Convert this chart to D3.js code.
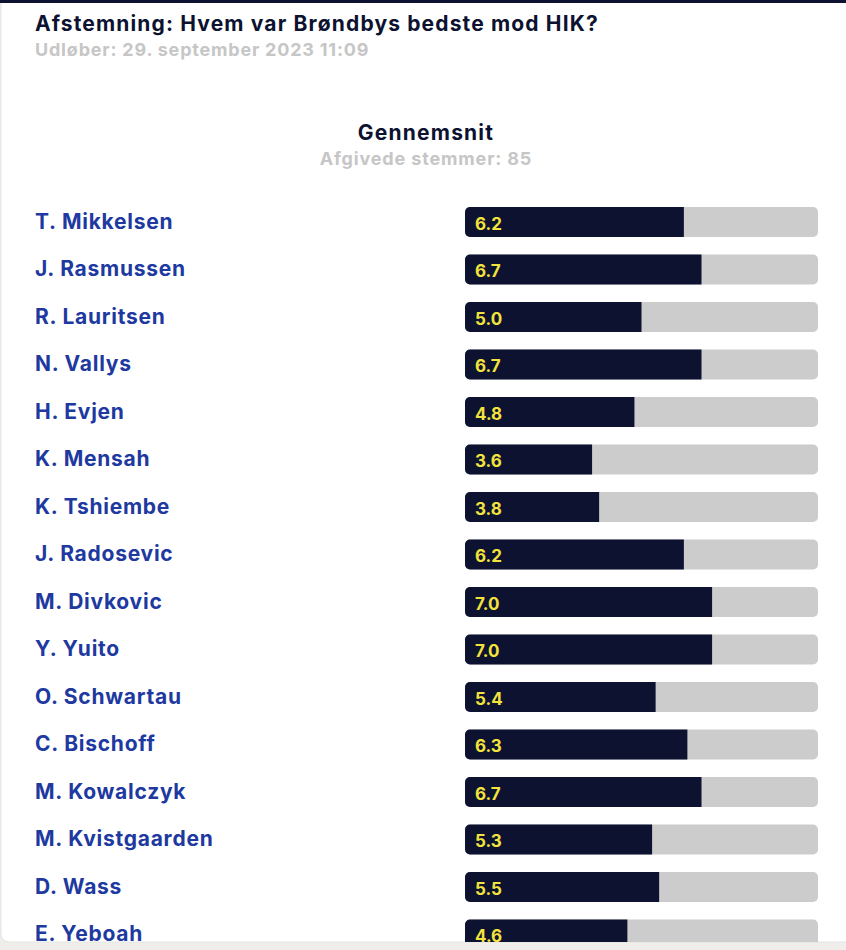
<!DOCTYPE html>
<html>
<head>
<meta charset="utf-8">
<script src="https://cdn.jsdelivr.net/npm/d3@7"></script>
<style>
  html, body { margin: 0; padding: 0; background: #efeeea; }
  svg { display: block; }
</style>
</head>
<body>
<svg id="chart" width="846" height="950"></svg>
<script>
const players = ["T. Mikkelsen", "J. Rasmussen", "R. Lauritsen", "N. Vallys", "H. Evjen", "K. Mensah",
    "K. Tshiembe", "J. Radosevic", "M. Divkovic", "Y. Yuito", "O. Schwartau", "C. Bischoff",
    "M. Kowalczyk", "M. Kvistgaarden", "D. Wass", "E. Yeboah"];
const ratings = [6.2, 6.7, 5.0, 6.7, 4.8, 3.6, 3.8, 6.2, 7.0, 7.0, 5.4, 6.3, 6.7, 5.3, 5.5, 4.6];
const maxRating = 10;

const title = "Afstemning: Hvem var Brøndbys bedste mod HIK?";
const expires = "Udløber: 29. september 2023 11:09";
const heading = "Gennemsnit";
const votes = "Afgivede stemmer: 85";

const font = "Inter, 'Noto Sans', sans-serif";
const width = 846, height = 950;
const svg = d3.select("#chart");

const data = players.map((p, i) => ({ name: p, value: ratings[i] }));

// page background and white card
svg.append("rect").attr("width", width).attr("height", height).attr("fill", "#efeeea");
svg.append("clipPath").attr("id", "card")
  .append("rect").attr("x", 1).attr("y", -20).attr("width", width + 20).attr("height", 962).attr("rx", 8);
svg.append("rect").attr("x", 1).attr("y", -20).attr("width", width + 20).attr("height", 962).attr("rx", 8)
  .attr("fill", "#fff").attr("stroke", "#e4e4e4");
svg.append("rect").attr("width", width).attr("height", 3).attr("fill", "#0c1230");

const g = svg.append("g").attr("clip-path", "url(#card)");

g.append("text").attr("x", 35).attr("y", 31)
  .attr("font-family", font).attr("font-weight", 700).attr("font-size", 21)
  .attr("letter-spacing", 1.15)
  .attr("fill", "#0c1230").text(title);
g.append("text").attr("x", 35).attr("y", 56)
  .attr("font-family", font).attr("font-weight", 700).attr("font-size", 18)
  .attr("letter-spacing", 0.8)
  .attr("fill", "#c6c6c6").text(expires);

g.append("text").attr("x", 426).attr("y", 140).attr("text-anchor", "middle")
  .attr("font-family", font).attr("font-weight", 700).attr("font-size", 21)
  .attr("letter-spacing", 1.2)
  .attr("fill", "#0c1230").text(heading);
g.append("text").attr("x", 426).attr("y", 165).attr("text-anchor", "middle")
  .attr("font-family", font).attr("font-weight", 700).attr("font-size", 18)
  .attr("letter-spacing", 0.85)
  .attr("fill", "#c6c6c6").text(votes);

const y = d3.scaleBand()
  .domain(players)
  .range([198.25, 198.25 + players.length * 47.5])
  .paddingInner(0.368)
  .paddingOuter(0.184);

const x = d3.scaleLinear().domain([0, maxRating]).range([465, 818]);

const row = g.selectAll("g.row")
  .data(data)
  .join("g")
  .attr("class", "row")
  .attr("transform", d => `translate(0,${y(d.name)})`);

row.append("text")
  .attr("x", 35)
  .attr("y", y.bandwidth() / 2 + 7)
  .attr("font-family", font).attr("font-weight", 700).attr("font-size", 21)
  .attr("letter-spacing", 0.75)
  .attr("fill", "#2039a0")
  .text(d => d.name);

// grey track
row.append("rect")
  .attr("x", x(0))
  .attr("width", x(maxRating) - x(0))
  .attr("height", y.bandwidth())
  .attr("rx", 5)
  .attr("fill", "#cccccc");

// dark value bar, rounded only on the left
row.append("path")
  .attr("fill", "#0c1230")
  .attr("d", d => {
    const x0 = x(0), x1 = x(d.value), h = y.bandwidth(), r = 5;
    return `M${x0 + r},0H${x1}V${h}H${x0 + r}A${r},${r} 0 0 1 ${x0},${h - r}V${r}A${r},${r} 0 0 1 ${x0 + r},0Z`;
  });

row.append("text")
  .attr("x", x(0) + 10)
  .attr("y", y.bandwidth() / 2 + 8)
  .attr("font-family", font).attr("font-weight", 700).attr("font-size", 17)
  .attr("fill", "#f3e33c")
  .text(d => d.value.toFixed(1));
</script>
</body>
</html>
